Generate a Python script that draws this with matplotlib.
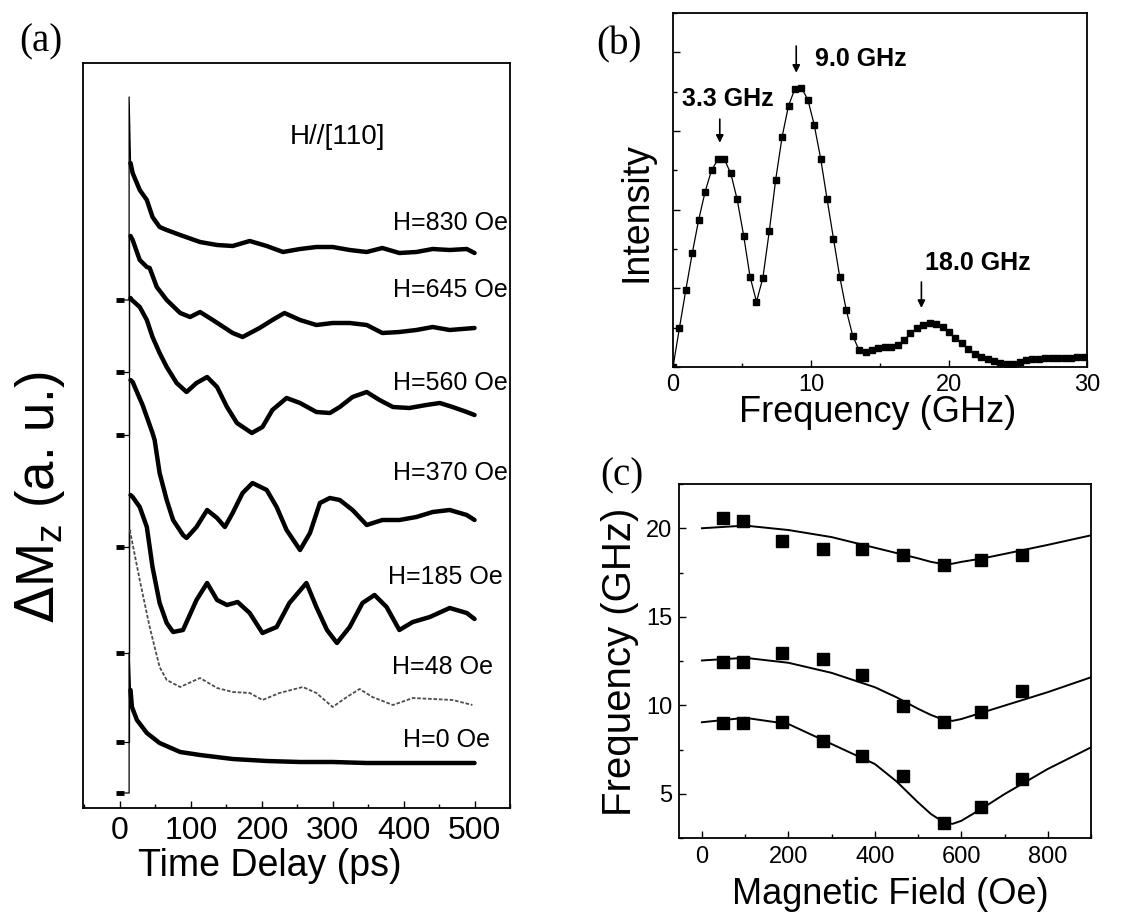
import matplotlib
matplotlib.use('Agg')
import matplotlib.pyplot as plt
from matplotlib.ticker import MultipleLocator

plt.rcParams['font.family'] = ['Liberation Sans', 'DejaVu Sans']

# ---------------- data ----------------
# (a) pump-probe traces (a.u., offset), time in ps
labels_a = ['H=830 Oe', 'H=645 Oe', 'H=560 Oe', 'H=370 Oe', 'H=185 Oe', 'H=48 Oe', 'H=0 Oe']
base_a = [5.08, 4.36, 3.73, 2.61, 1.55, 0.66, 0.15]      # level before t0
top_a = [7.11, 5.72, 5.10, 4.28, 3.13, 2.78, 1.55]       # top of the rise at t0
t_rise = 13

t_830 = [15, 18, 28, 38, 46, 56, 66, 85, 113, 137, 159, 183, 207, 230, 254, 277, 300,
         324, 348, 370, 394, 418, 441, 465, 489, 500]
m_830 = [6.45, 6.35, 6.18, 6.08, 5.91, 5.81, 5.78, 5.73, 5.66, 5.63, 5.62, 5.67, 5.62,
         5.56, 5.59, 5.61, 5.61, 5.58, 5.56, 5.60, 5.55, 5.56, 5.59, 5.58, 5.59, 5.55]

t_645 = [15, 18, 28, 38, 42, 52, 66, 85, 99, 113, 131, 159, 173, 197, 215, 232, 254,
         277, 300, 324, 348, 370, 394, 418, 441, 465, 500]
m_645 = [5.72, 5.68, 5.48, 5.41, 5.40, 5.21, 5.08, 4.95, 4.91, 4.96, 4.88, 4.75, 4.71,
         4.80, 4.88, 4.95, 4.88, 4.83, 4.85, 4.85, 4.83, 4.75, 4.76, 4.78, 4.81, 4.78, 4.80]

t_560 = [15, 17, 28, 38, 46, 56, 66, 80, 94, 108, 123, 137, 151, 165, 186, 201, 215,
         235, 254, 277, 296, 310, 328, 348, 366, 385, 408, 432, 451, 469, 489, 500]
m_560 = [5.10, 5.08, 5.01, 4.88, 4.71, 4.55, 4.41, 4.25, 4.16, 4.25, 4.31, 4.21, 4.01,
         3.85, 3.75, 3.81, 3.98, 4.10, 4.05, 3.96, 3.95, 4.01, 4.11, 4.16, 4.08, 4.01,
         4.00, 4.03, 4.05, 4.01, 3.96, 3.93]

t_370 = [15, 18, 32, 46, 49, 56, 66, 75, 89, 94, 108, 123, 137, 148, 159, 173, 187, 207,
         221, 235, 254, 268, 282, 296, 310, 328, 348, 370, 394, 418, 441, 465, 489, 500]
m_370 = [4.28, 4.26, 4.03, 3.75, 3.68, 3.35, 3.08, 2.88, 2.73, 2.70, 2.81, 2.98, 2.90,
         2.81, 2.95, 3.15, 3.25, 3.18, 3.01, 2.78, 2.58, 2.75, 3.05, 3.10, 3.08, 2.98,
         2.83, 2.88, 2.88, 2.91, 2.96, 2.98, 2.93, 2.88]

t_185 = [15, 18, 28, 38, 46, 56, 66, 75, 89, 108, 123, 137, 151, 166, 183, 201, 221,
         239, 263, 277, 292, 306, 324, 342, 359, 376, 394, 413, 437, 465, 489, 500]
m_185 = [3.13, 3.11, 3.01, 2.81, 2.41, 2.05, 1.85, 1.76, 1.78, 2.08, 2.25, 2.08, 2.03,
         2.06, 1.95, 1.75, 1.81, 2.05, 2.25, 2.01, 1.78, 1.65, 1.81, 2.05, 2.13, 2.01,
         1.78, 1.86, 1.91, 2.00, 1.95, 1.89]

t_48 = [14, 28, 42, 56, 66, 85, 113, 137, 159, 183, 201, 225, 258, 277, 300, 320, 338,
        356, 385, 413, 441, 469, 497]
m_48 = [2.78, 2.28, 1.81, 1.41, 1.28, 1.21, 1.30, 1.20, 1.16, 1.15, 1.08, 1.15, 1.21,
        1.15, 1.01, 1.11, 1.19, 1.11, 1.03, 1.10, 1.09, 1.08, 1.03]

t_0 = [15, 17, 24, 38, 56, 85, 113, 159, 207, 254, 300, 348, 394, 441, 500]
m_0 = [1.18, 1.01, 0.88, 0.75, 0.65, 0.56, 0.53, 0.49, 0.47, 0.46, 0.46, 0.45, 0.45,
       0.45, 0.45]

times_a = [t_830, t_645, t_560, t_370, t_185, t_48, t_0]
traces_a = [m_830, m_645, m_560, m_370, m_185, m_48, m_0]

# (b) Fourier spectrum
freq_b = [0.00, 0.46, 0.93, 1.40, 1.86, 2.33, 2.79, 3.26, 3.72, 4.19, 4.65, 5.12, 5.58,
          6.05, 6.51, 6.98, 7.44, 7.91, 8.37, 8.84, 9.30, 9.77, 10.23, 10.70, 11.16,
          11.63, 12.09, 12.56, 13.02, 13.49, 13.95, 14.42, 14.88, 15.35, 15.81, 16.28,
          16.74, 17.21, 17.67, 18.14, 18.60, 19.07, 19.53, 20.00, 20.46, 20.93, 21.39,
          21.86, 22.32, 22.79, 23.25, 23.72, 24.18, 24.65, 25.11, 25.58, 26.04, 26.51,
          26.97, 27.44, 27.90, 28.37, 28.83, 29.30, 29.76]
inten_b = [0.00, 0.49, 0.98, 1.45, 1.87, 2.23, 2.50, 2.64, 2.64, 2.46, 2.13, 1.67, 1.15,
           0.83, 1.13, 1.73, 2.38, 2.93, 3.32, 3.54, 3.55, 3.40, 3.08, 2.65, 2.14, 1.63,
           1.14, 0.72, 0.40, 0.21, 0.19, 0.22, 0.24, 0.25, 0.25, 0.28, 0.34, 0.43, 0.49,
           0.54, 0.56, 0.55, 0.51, 0.44, 0.37, 0.30, 0.23, 0.17, 0.13, 0.10, 0.07, 0.05,
           0.035, 0.04, 0.06, 0.09, 0.10, 0.105, 0.11, 0.11, 0.115, 0.12, 0.12, 0.13, 0.13]
peaks_b = [3.3, 9.0, 18.0]
peak_text_b = ['3.3 GHz', '9.0 GHz', '18.0 GHz']

# (c) mode frequencies vs field
field_c = [48, 95, 185, 280, 370, 465, 560, 645, 740]
f_up = [20.6, 20.4, 19.3, 18.85, 18.85, 18.5, 17.95, 18.2, 18.5]
f_mid = [12.47, 12.47, 12.94, 12.63, 11.72, 9.93, 9.04, 9.6, 10.83]
f_low = [8.98, 8.98, 9.04, 8.0, 7.15, 6.02, 3.32, 4.23, 5.83]

field_fit = [0, 100, 200, 300, 400, 450, 500, 530, 560, 580, 600, 650, 700, 800, 900]
fit_up = [20.0, 20.15, 19.9, 19.5, 18.9, 18.6, 18.3, 18.1, 17.97, 18.0, 18.1, 18.3,
          18.55, 19.06, 19.6]
fit_mid = [12.53, 12.68, 12.4, 11.83, 11.02, 10.45, 9.8, 9.45, 9.17, 9.12, 9.22, 9.6,
           9.98, 10.74, 11.58]
fit_low = [9.04, 9.29, 8.94, 7.81, 6.68, 5.7, 4.51, 3.85, 3.38, 3.3, 3.47, 4.2, 4.98,
           6.4, 7.62]

# ---------------- figure ----------------
W, H = 1135, 914
fig = plt.figure(figsize=(W / 100, H / 100), dpi=100)


def box(l, t, r, b):
    return [l / W, 1 - b / H, (r - l) / W, (b - t) / H]


def ftext(x, y, s, **kw):
    fig.text(x / W, 1 - y / H, s, ha='center', va='center', **kw)


def style(ax, size):
    for sp in ax.spines.values():
        sp.set_linewidth(1.3)
    ax.tick_params(which='both', direction='in', labelsize=size, width=1.0,
                   top=False, right=False)
    ax.tick_params(which='major', length=5)
    ax.tick_params(which='minor', length=3)


# (a)
ax1 = fig.add_axes(box(83, 63, 510, 808))
for i in range(len(labels_a)):
    ts, ms = times_a[i], traces_a[i]
    ax1.plot([-6, 6], [base_a[i], base_a[i]], 'k-', lw=3.5, solid_capstyle='butt')
    # thin rise at t0 up to the top, then back to where the trace starts
    ax1.plot([6, t_rise, t_rise, ts[0]], [base_a[i], base_a[i], top_a[i], ms[0]],
             'k-', lw=0.9)
    if labels_a[i] == 'H=48 Oe':
        ax1.plot(ts, ms, color='0.3', lw=1.3, ls=(0, (2, 1)))
    else:
        ax1.plot(ts, ms, 'k-', lw=3.2, solid_joinstyle='round', solid_capstyle='round')
ax1.set_xlim(-52, 550)
ax1.set_ylim(0, 7.45)
ax1.set_yticks([])
ax1.xaxis.set_major_locator(MultipleLocator(100))
ax1.xaxis.set_minor_locator(MultipleLocator(50))
style(ax1, 23)
ax1.tick_params(axis='x', pad=6)

label_pos_a = [(385, 5.85), (385, 5.18), (385, 4.25), (385, 3.35), (378, 2.31),
               (383, 1.41), (399, 0.68)]
for s, (x, y) in zip(labels_a, label_pos_a):
    ax1.text(x, y, s, fontsize=18, ha='left', va='center')
ax1.text(239, 6.71, 'H//[110]', fontsize=20, ha='left', va='center')

# (b)
ax2 = fig.add_axes(box(673, 13, 1087, 367))
ax2.plot(freq_b, inten_b, 'k-', lw=0.9, marker='s', ms=4.6, mfc='k', mec='k')
ax2.set_xlim(0, 30)
ax2.set_ylim(0, 4.5)
ax2.xaxis.set_major_locator(MultipleLocator(10))
ax2.xaxis.set_minor_locator(MultipleLocator(5))
ax2.yaxis.set_major_locator(MultipleLocator(1))
ax2.yaxis.set_minor_locator(MultipleLocator(0.5))
ax2.set_yticklabels([])
style(ax2, 17)
ax2.tick_params(axis='x', pad=5)

arrow_b = [(3.39, 3.15, 2.85), (8.93, 4.08, 3.74), (18.0, 1.08, 0.75)]
text_b = [(3.97, 3.41), (13.6, 3.91), (22.1, 1.32)]
for s, (x, y0, y1), (tx, ty) in zip(peak_text_b, arrow_b, text_b):
    ax2.annotate('', xy=(x, y1), xytext=(x, y0),
                 arrowprops=dict(arrowstyle='-|>', color='k', lw=1.2, mutation_scale=11,
                                 shrinkA=0, shrinkB=0))
    ax2.text(tx, ty, s, fontsize=18, fontweight='bold', ha='center', va='center')

# (c)
ax3 = fig.add_axes(box(679, 484, 1091, 838))
for fit in [fit_up, fit_mid, fit_low]:
    ax3.plot(field_fit, fit, 'k-', lw=1.4)
for pts in [f_up, f_mid, f_low]:
    ax3.plot(field_c, pts, 's', color='k', ms=8, ls='none')
ax3.set_xlim(-53, 900)
ax3.set_ylim(2.5, 22.5)
ax3.xaxis.set_major_locator(MultipleLocator(200))
ax3.xaxis.set_minor_locator(MultipleLocator(100))
ax3.yaxis.set_major_locator(MultipleLocator(5))
ax3.yaxis.set_minor_locator(MultipleLocator(2.5))
style(ax3, 17)
ax3.tick_params(axis='x', pad=6)
ax3.tick_params(axis='y', pad=5)

# axis labels and panel letters
ftext(270, 866, 'Time Delay (ps)', fontsize=27)
ftext(40, 497, r'$\Delta$M$_\mathregular{z}$ (a. u.)', fontsize=38, rotation=90)
ftext(878, 412, 'Frequency (GHz)', fontsize=26)
ftext(636, 212, 'Intensity', fontsize=27, rotation=90)
ftext(890, 895, 'Magnetic Field (Oe)', fontsize=26)
ftext(620, 662, 'Frequency (GHz)', fontsize=29, rotation=90)

for s, x, y in [('(a)', 41, 42), ('(b)', 619, 45), ('(c)', 622, 476)]:
    ftext(x, y, s, fontsize=28, family='Liberation Serif')

fig.savefig('out.png', dpi=100)
